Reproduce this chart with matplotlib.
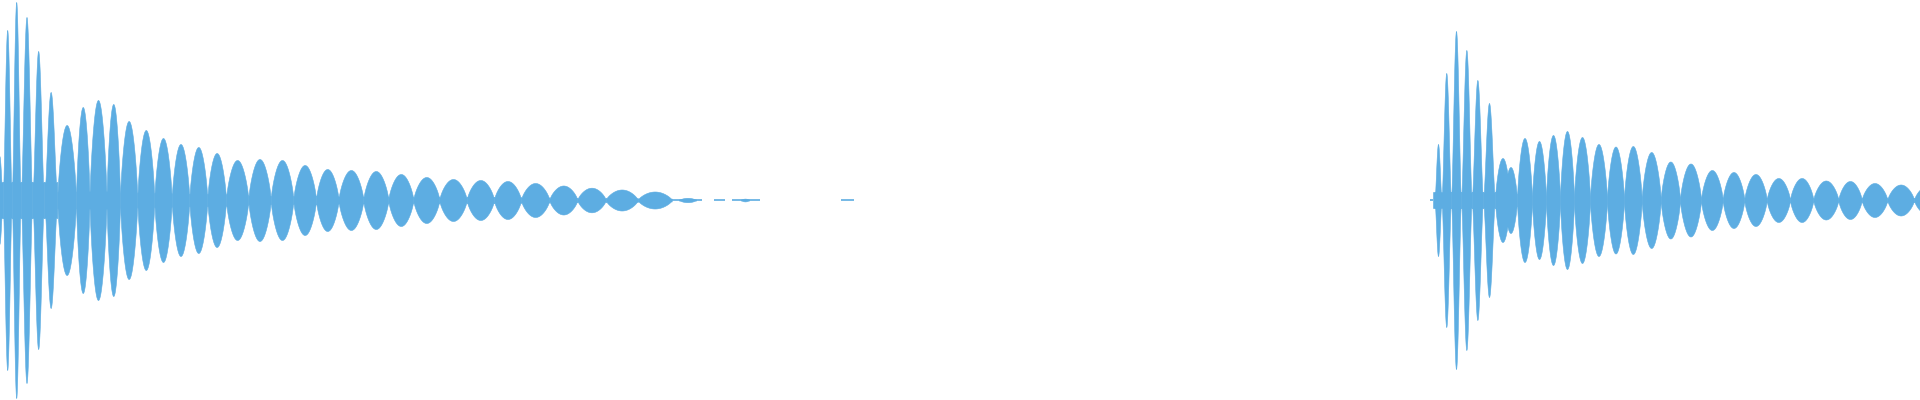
"""Two decaying plucked-note waveforms, drawn as a symmetric peak envelope."""

import matplotlib
matplotlib.use("Agg")
import matplotlib.pyplot as plt
import numpy as np

WAVE_COLOR = "#5dade2"

# Attack transients: (start, end, peak amplitude); sharp spikes on a flat band
LEFT_SPIKE_START = [-4.0, 2.7, 11.7, 20.7, 32.3, 44.0]
LEFT_SPIKE_END = [2.7, 11.7, 20.7, 32.3, 44.0, 57.3]
LEFT_SPIKE_AMP = [44, 170, 198, 183, 149, 108]
LEFT_SPIKE_FLOOR = 18

RIGHT_SPIKE_START = [1432.5, 1434.5, 1441.5, 1451.0, 1461.0, 1471.7, 1483.0]
RIGHT_SPIKE_END = [1436.0, 1441.5, 1451.0, 1461.0, 1471.7, 1483.0, 1495.0]
RIGHT_SPIKE_AMP = [6, 56, 127, 169, 150, 120, 97]
RIGHT_SPIKE_FLOOR = 8

# Beating lobes of the sustained tone: (start, end, peak amplitude, node floor)
LEFT_LOBE_START = [57.3, 76.0, 89.5, 106.5, 120.0, 137.3, 154.3, 171.7, 189.3,
                   207.3, 226.0, 248.3, 270.7, 293.3, 316.0, 338.5, 363.3,
                   388.3, 413.3, 439.3, 466.7, 494.0, 521.0, 549.3, 577.3,
                   605.7, 637.7, 679.0, 741.0]
LEFT_LOBE_END = [76.0, 89.5, 106.5, 120.0, 137.3, 154.3, 171.7, 189.3, 207.3,
                 226.0, 248.3, 270.7, 293.3, 316.0, 338.5, 363.3, 388.3,
                 413.3, 439.3, 466.7, 494.0, 521.0, 549.3, 577.3, 605.7,
                 637.7, 671.7, 696.0, 749.0]
LEFT_LOBE_AMP = [75, 93, 100, 96, 79, 70, 62, 56, 53, 47, 40, 41, 40, 35, 31,
                 30, 29, 26, 23, 21, 20, 19, 17, 14.5, 12.3, 10.5, 8.5, 2.2,
                 1.4]
LEFT_LOBE_FLOOR = [8, 8, 8, 8, 7, 7, 7, 6, 6, 6, 5, 4, 4, 4, 4, 3.5, 3.5, 3,
                   3, 3, 3, 3, 2.5, 2, 2, 2, 1.5, 0.6, 0.6]

RIGHT_LOBE_START = [1495.0, 1504.0, 1517.0, 1532.0, 1546.0, 1560.0, 1574.0,
                    1590.0, 1607.0, 1624.0, 1641.7, 1660.7, 1680.0, 1701.0,
                    1722.7, 1744.3, 1766.7, 1790.0, 1813.3, 1838.3, 1861.7,
                    1887.3, 1914.0]
RIGHT_LOBE_END = [1510.0, 1517.0, 1532.0, 1546.0, 1560.0, 1574.0, 1590.0,
                  1607.0, 1624.0, 1641.7, 1660.7, 1680.0, 1701.0, 1722.7,
                  1744.3, 1766.7, 1790.0, 1813.3, 1838.3, 1861.7, 1887.3,
                  1914.0, 1940.0]
RIGHT_LOBE_AMP = [42, 33, 62, 59, 65, 69, 63, 56, 53.5, 54, 48, 38.5, 36.5,
                  30, 28, 26, 22, 22, 19.5, 19, 17, 15.5, 14]
RIGHT_LOBE_FLOOR = [8, 6, 4, 4, 4, 4, 3.5, 3.5, 3, 3, 3, 3, 3, 2.5, 2.5, 2.5,
                    2, 2, 2, 2, 2, 2, 2]

# Near-silent tails (start, end) drawn as thin flat runs
DASH_START = [672.0, 714.0, 732.0, 841.0, 1430.0]
DASH_END = [702.0, 725.0, 760.0, 854.0, 1433.0]


def draw_lobes(ax, starts, ends, amps, floors, power):
    for x0, x1, a, f in zip(starts, ends, amps, floors):
        t = np.linspace(0.0, 1.0, 80)
        x = x0 + t * (x1 - x0)
        env = np.maximum(f, a * np.sin(np.pi * t) ** power)
        ax.fill_between(x, -env, env, color=WAVE_COLOR, lw=0.4,
                        edgecolor=WAVE_COLOR)


def main():
    fig = plt.figure(figsize=(19.2, 4.0), dpi=100)
    ax = fig.add_axes([0, 0, 1, 1])

    draw_lobes(ax, LEFT_SPIKE_START, LEFT_SPIKE_END, LEFT_SPIKE_AMP,
               [LEFT_SPIKE_FLOOR] * len(LEFT_SPIKE_AMP), power=1.6)
    draw_lobes(ax, RIGHT_SPIKE_START, RIGHT_SPIKE_END, RIGHT_SPIKE_AMP,
               [RIGHT_SPIKE_FLOOR] * len(RIGHT_SPIKE_AMP), power=1.6)
    draw_lobes(ax, LEFT_LOBE_START, LEFT_LOBE_END, LEFT_LOBE_AMP,
               LEFT_LOBE_FLOOR, power=0.7)
    draw_lobes(ax, RIGHT_LOBE_START, RIGHT_LOBE_END, RIGHT_LOBE_AMP,
               RIGHT_LOBE_FLOOR, power=0.7)
    ax.hlines([0] * len(DASH_START), DASH_START, DASH_END,
              color=WAVE_COLOR, lw=1.2)

    ax.set_xlim(0, 1920)
    ax.set_ylim(-200, 200)
    ax.axis("off")
    fig.savefig("out.png", dpi=100, facecolor="white")
    plt.close(fig)


if __name__ == "__main__":
    main()
